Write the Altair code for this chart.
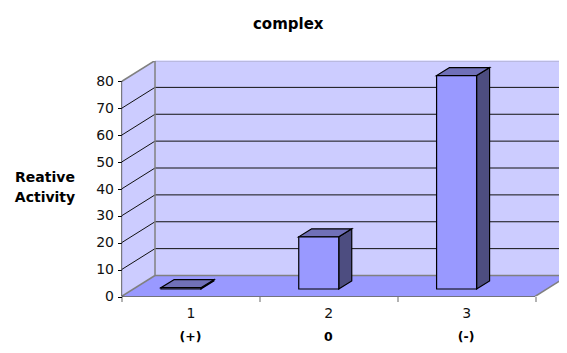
import altair as alt
import pandas as pd

categories = [1, 2, 3]
signs = ["(+)", "0", "(-)"]
values = [0.5, 19.4, 79.4]
y_ticks = [0, 10, 20, 30, 40, 50, 60, 70, 80]
x_axis_values = [0.5, 1, 1.5, 2, 2.5, 3, 3.5]

FONT = "DejaVu Sans"
PX_X = 413.5 / 3
PX_Y = 215 / 80
PLOT_W, PLOT_H = 437.5, 235.5
X0, X1 = 0.5, 3.5
XMAX = X0 + PLOT_W / PX_X
YMAX = PLOT_H / PX_Y
DX, DY = 33.5 / PX_X, 21 / PX_Y       # depth of the floor
BDX, BDY = 13 / PX_X, 8 / PX_Y        # depth of a bar
BASE = 7.5 / PX_Y
SHIFT, HALF = 9.5 / PX_X, 20 / PX_X

xs = alt.Scale(domain=[X0, XMAX], nice=False, zero=False)
ys = alt.Scale(domain=[0, YMAX], nice=False, zero=False)

x_axis = alt.Axis(
    values=x_axis_values, labelExpr="datum.value % 1 == 0 ? format(datum.value, 'd') : ''",
    tickOpacity={"condition": {"test": "datum.value % 1 != 0", "value": 1}, "value": 0},
    tickSize=5, tickColor="#808080", tickWidth=1.2, domain=False, grid=False, title=None,
    labelPadding=5, labelFont=FONT, labelFontSize=14, labelColor="#111111", labelFlush=False,
    labelOverlap=False)
y_axis = alt.Axis(
    values=y_ticks, format="d", tickSize=4, tickColor="black", domain=False, grid=False,
    labelFont=FONT, labelFontSize=14, labelColor="#111111", labelPadding=4,
    title=["Reative", "Activity"], titleAngle=0, titleFont=FONT, titleFontSize=14,
    titleFontWeight="bold", titleX=-77, titleY=116, titleAlign="center", titleBaseline="middle",
    titleColor="black", titleLineHeight=20)

X = lambda f="x": alt.X(f"{f}:Q", scale=xs, axis=x_axis)
Y = lambda f="y": alt.Y(f"{f}:Q", scale=ys, axis=y_axis)


def rects(rows, color, stroke=None, width=1):
    kw = {"stroke": stroke, "strokeWidth": width} if stroke else {}
    return alt.Chart(pd.DataFrame(rows)).mark_rect(color=color, **kw).encode(
        x=X(), x2="x2:Q", y=Y(), y2="y2:Q")


def vside(rows, color, stroke=None, width=1):
    kw = {"stroke": stroke, "strokeWidth": width} if stroke else {}
    return alt.Chart(pd.DataFrame(rows)).mark_area(color=color, clip=True, **kw).encode(
        x=X(), y=Y(), y2="y2:Q", detail="id:N")


def hside(rows, color, stroke=None, width=1):
    kw = {"stroke": stroke, "strokeWidth": width} if stroke else {}
    return alt.Chart(pd.DataFrame(rows)).mark_area(color=color, orient="horizontal", clip=True, **kw).encode(
        y=Y(), x=X(), x2="x2:Q", detail="id:N")


def rules(rows, color, width=1):
    return alt.Chart(pd.DataFrame(rows)).mark_rule(color=color, strokeWidth=width, clip=True).encode(
        x=X(), x2="x2:Q", y=Y(), y2="y2:Q")


top = y_ticks[-1]
wall = rects([dict(x=X0 + DX, x2=XMAX, y=DY, y2=top + DY)], "#CCCCFF")
left = vside([dict(id=0, x=X0, y=0, y2=top), dict(id=0, x=X0 + DX, y=DY, y2=top + DY)], "#CCCCFF")
floor = hside([dict(id=0, y=0, x=X0, x2=X1), dict(id=0, y=DY, x=X0 + DX, x2=X1 + DX)], "#9999FF")

grid_back = rules([dict(x=X0 + DX, x2=XMAX, y=v + DY, y2=v + DY) for v in y_ticks[1:-1]], "#111111")
grid_left = rules([dict(x=X0, x2=X0 + DX, y=v, y2=v + DY) for v in y_ticks[1:-1]], "#111111")
edges = rules([
    dict(x=X0 + DX, x2=XMAX, y=DY, y2=DY),
    dict(x=X0 + DX, x2=XMAX, y=top + DY, y2=top + DY),
    dict(x=X0 + DX, x2=X0 + DX, y=DY, y2=top + DY),
    dict(x=X0, x2=X0 + DX, y=top, y2=top + DY),
    dict(x=X0, x2=X0 + DX, y=0, y2=DY),
    dict(x=X1, x2=X1 + DX, y=0, y2=DY),
], "#808080", 1.5)

bar_side, bar_top, bar_front = [], [], []
for i, (c, v) in enumerate(zip(categories, values)):
    a, b = c - SHIFT - HALF, c - SHIFT + HALF
    t = BASE + v
    bar_side += [dict(id=i, x=b, y=BASE, y2=t), dict(id=i, x=b + BDX, y=BASE + BDY, y2=t + BDY)]
    bar_top += [dict(id=i, y=t, x=a, x2=b), dict(id=i, y=t + BDY, x=a + BDX, x2=b + BDX)]
    bar_front.append(dict(x=a, x2=b, y=BASE, y2=t))

sides = vside(bar_side, "#4D4D80", "black", 1.2)
tops = hside(bar_top, "#7070B8", "black", 1.2)
fronts = rects(bar_front, "#9999FF", "black", 1.2)

axes_lines = rules([
    dict(x=X0, x2=X0, y=0, y2=top),
    dict(x=X0, x2=X1, y=0, y2=0),
], "black", 1.2)

cat_df = pd.DataFrame({"x": categories, "sign": signs})
sign_layer = alt.Chart(cat_df).mark_text(font=FONT, fontSize=12.5, fontWeight="bold", color="black").encode(
    x=X(), y=alt.value(276), text="sign:N")

chart = alt.layer(
    wall, left, floor, grid_back, grid_left, edges, sides, tops, fronts, axes_lines, sign_layer,
).properties(
    width=PLOT_W,
    height=PLOT_H,
    padding={"left": 113.5, "top": 53, "right": 0, "bottom": 48.5},
    autosize=alt.AutoSizeParams(type="none"),
    title=alt.TitleParams("complex", font=FONT, fontSize=15, fontWeight="bold", color="black",
                          anchor="middle", dx=-52, offset=29),
).configure_view(stroke=None)

chart.save("out.html", embed_options={"renderer": "svg", "actions": False})
